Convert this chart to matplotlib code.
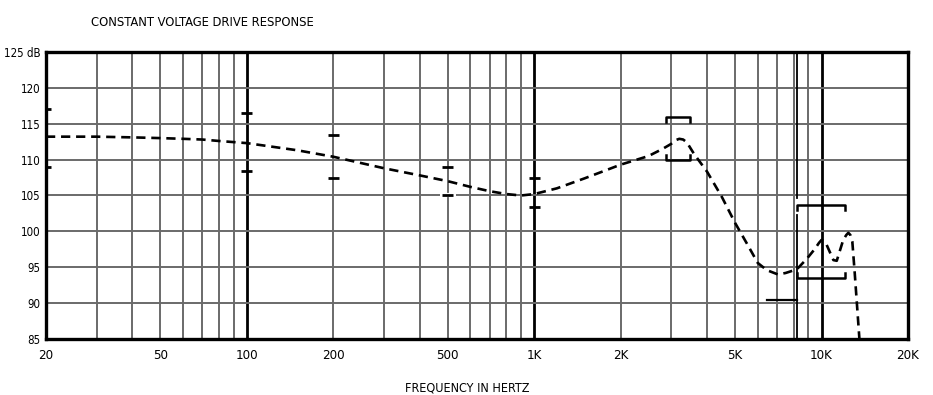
import matplotlib
matplotlib.use("Agg")
import matplotlib.pyplot as plt

# ---------------- data ----------------
freq_hz = [20, 30, 40, 50, 60, 70, 80, 100, 150, 200, 300, 400, 500, 600, 700, 800,
           900, 1000, 1200, 1500, 2000, 2500, 2800, 3000, 3100, 3200, 3300, 3400,
           3600, 4000, 4500, 5000, 5500, 6000, 6450, 7050, 7500, 8200, 8900, 9500,
           9800, 10000, 10200, 10400, 11000, 11300, 11900, 12200, 12400, 12600,
           12800, 13050, 13550]
response_db = [113.2, 113.2, 113.1, 113.0, 112.9, 112.8, 112.6, 112.3, 111.3, 110.4,
               108.8, 107.8, 107.0, 106.2, 105.6, 105.2, 105.0, 105.2, 106.0, 107.4,
               109.3, 110.5, 111.5, 112.2, 112.7, 112.9, 112.8, 112.4, 110.8, 108.3,
               104.8, 101.2, 98.3, 95.6, 94.6, 94.0, 94.2, 94.7, 96.2, 97.6, 98.4,
               98.8, 98.7, 98.2, 96.0, 95.9, 98.8, 99.5, 99.8, 99.5, 98.6, 94.2, 85.0]

tol_freq = [20, 100, 200, 500, 1000]
tol_hi = [117.1, 116.5, 113.4, 109.0, 107.5]
tol_lo = [109.0, 108.4, 107.4, 105.0, 103.4]

bracket_lo_freq = [2870, 8200]
bracket_hi_freq = [3490, 12080]
bracket_top = [116.0, 103.7]
bracket_bottom = [110.0, 93.5]

limit_line_freq = [6450, 8200]
limit_line_db = 90.4

xtick_vals = [20, 50, 100, 200, 500, 1000, 2000, 5000, 10000, 20000]
xtick_labels = ["20", "50", "100", "200", "500", "1K", "2K", "5K", "10K", "20K"]
ytick_vals = [85, 90, 95, 100, 105, 110, 115, 120, 125]
ytick_labels = ["85", "90", "95", "100", "105", "110", "115", "120", "125 dB"]
minor_grid = [30, 40, 50, 60, 70, 80, 90, 200, 300, 400, 500, 600, 700, 800, 900,
              2000, 3000, 4000, 5000, 6000, 7000, 8000, 9000]
major_grid = [100, 1000, 10000]

# ---------------- style ----------------
plt.rcParams["font.family"] = ["DejaVu Sans"]
plt.rcParams["font.stretch"] = "condensed"
plt.rcParams["font.weight"] = "light"

fig = plt.figure(figsize=(9.33, 3.95), dpi=100)
ax = fig.add_axes([46 / 933, 1 - 339 / 395, 862 / 933, 287 / 395])
ax.set_xscale("log")
ax.set_xlim(20, 20000)
ax.set_ylim(85, 125)

gray = "#6a6a6a"
for f in minor_grid:
    ax.axvline(f, color=gray, lw=1.4, zorder=1)
for f in major_grid:
    ax.axvline(f, color="black", lw=2.0, zorder=1)
for v in ytick_vals[1:-1]:
    ax.axhline(v, color=gray, lw=1.4, zorder=1)

# gap in 105 gridline near 500 Hz
ax.plot([470, 535], [105, 105], color="white", lw=3, zorder=1.5, solid_capstyle="butt")

# response curve
ax.plot(freq_hz, response_db, color="black", lw=1.9, ls=(0, (3.5, 2.2)), zorder=3)

# tolerance marks
for f, hi, lo in zip(tol_freq, tol_hi, tol_lo):
    for v in (hi, lo):
        ax.plot([f / 1.045, f * 1.045], [v, v], color="black", lw=2.0, zorder=4,
                solid_capstyle="butt")

# brackets
for f0, f1, top, bot in zip(bracket_lo_freq, bracket_hi_freq, bracket_top, bracket_bottom):
    ax.plot([f0, f0, f1, f1], [top - 0.7, top, top, top - 0.7], color="black", lw=1.8, zorder=4)
    ax.plot([f0, f0, f1, f1], [bot + 0.7, bot, bot, bot + 0.7], color="black", lw=1.8, zorder=4)

# vertical limit line at 8.2K
ax.plot([bracket_lo_freq[1]] * 2, [104.6, 125], color="black", lw=1.3, zorder=2)
ax.plot([bracket_lo_freq[1]] * 2, [85, 102.3], color="black", lw=1.3, zorder=2)
ax.plot(limit_line_freq, [limit_line_db] * 2, color="black", lw=1.6, zorder=4)

for s in ax.spines.values():
    s.set_linewidth(2.4)
    s.set_color("black")

ax.set_xticks(xtick_vals)
ax.set_xticklabels(xtick_labels)
ax.set_xticks([], minor=True)
ax.set_yticks(ytick_vals)
ax.set_yticklabels(ytick_labels)
ax.tick_params(axis="both", length=0)
ax.tick_params(axis="x", labelsize=9.5, pad=7)
ax.tick_params(axis="y", labelsize=8.3, pad=4)

fig.text(91 / 933, 1 - 22 / 395, "CONSTANT VOLTAGE DRIVE RESPONSE", fontsize=9.3,
         ha="left", va="center")
fig.text(467 / 933, 1 - 388 / 395, "FREQUENCY IN HERTZ", fontsize=9,
         ha="center", va="center")

fig.savefig("out.png", dpi=100, facecolor="white")
